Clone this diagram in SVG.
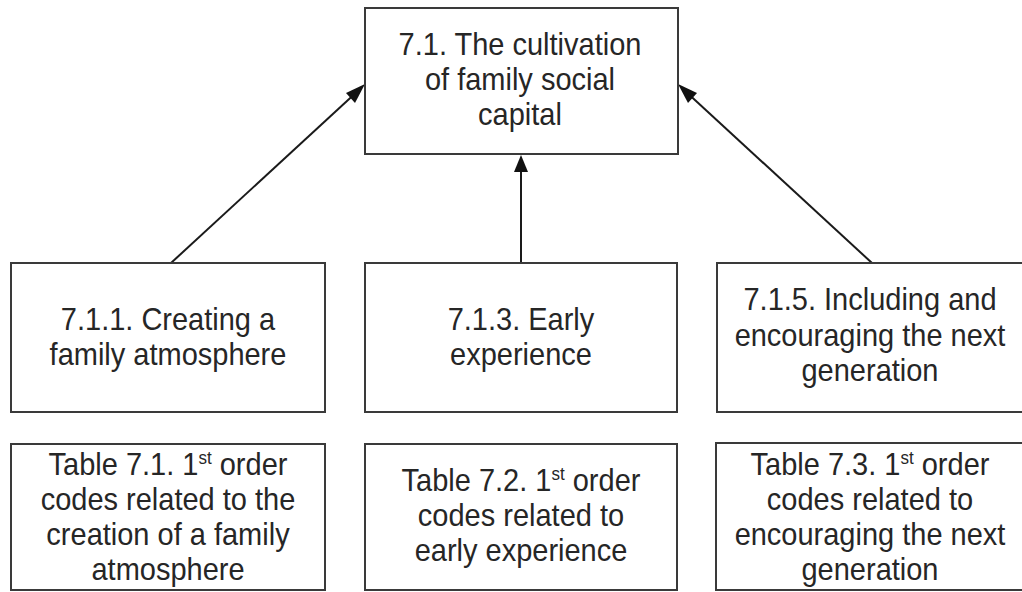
<svg xmlns="http://www.w3.org/2000/svg" width="1022" height="592" viewBox="0 0 1022 592">
  <style>
    .box { fill: #ffffff; stroke: #3a3a3a; stroke-width: 2; }
    .lbl { font-family: "Liberation Sans", Arial, sans-serif; font-size: 29px; fill: #262626; text-anchor: middle; }
    .sup { font-size: 17px; }
    .edge { stroke: #1a1a1a; stroke-width: 2; fill: none; }
    .head { fill: #111111; }
  </style>
  <rect width="1022" height="592" fill="#ffffff"/>

  <!-- connectors -->
  <g id="connectors">
    <line class="edge" x1="171" y1="263" x2="360" y2="89"/>
    <path class="head" d="M365,84 L346,93 L355,103 z"/>
    <line class="edge" x1="872" y1="263" x2="683" y2="89"/>
    <path class="head" d="M678,84 L697,93 L688,103 z"/>
    <line class="edge" x1="521" y1="263" x2="521" y2="165"/>
    <path class="head" d="M521,155 L514,172 L528,172 z"/>
  </g>

  <!-- top node -->
  <g id="n-7-1">
    <rect class="box" x="365" y="8" width="313" height="146"/>
    <text class="lbl" x="520" y="0" transform="translate(0,55) scale(1,1.1)">7.1. The cultivation</text>
    <text class="lbl" x="520" y="0" transform="translate(0,90) scale(1,1.1)">of family social</text>
    <text class="lbl" x="520" y="0" transform="translate(0,125) scale(1,1.1)">capital</text>
  </g>

  <!-- second-order themes -->
  <g id="n-7-1-1">
    <rect class="box" x="11" y="263" width="314" height="149"/>
    <text class="lbl" x="168" y="0" transform="translate(0,330) scale(1,1.1)">7.1.1. Creating a</text>
    <text class="lbl" x="168" y="0" transform="translate(0,365) scale(1,1.1)">family atmosphere</text>
  </g>
  <g id="n-7-1-3">
    <rect class="box" x="365" y="263" width="312" height="149"/>
    <text class="lbl" x="521" y="0" transform="translate(0,330) scale(1,1.1)">7.1.3. Early</text>
    <text class="lbl" x="521" y="0" transform="translate(0,365) scale(1,1.1)">experience</text>
  </g>
  <g id="n-7-1-5">
    <rect class="box" x="717" y="263" width="310" height="149"/>
    <text class="lbl" x="870" y="0" transform="translate(0,310) scale(1,1.1)">7.1.5. Including  and</text>
    <text class="lbl" x="870" y="0" transform="translate(0,346) scale(1,1.1)">encouraging the next</text>
    <text class="lbl" x="870" y="0" transform="translate(0,381) scale(1,1.1)">generation</text>
  </g>

  <!-- first-order code tables -->
  <g id="t-7-1">
    <rect class="box" x="11" y="444" width="314" height="146"/>
    <text class="lbl" x="168" y="0" transform="translate(0,475) scale(1,1.1)">Table 7.1. 1<tspan class="sup" dy="-10">st</tspan><tspan dy="10"> order</tspan></text>
    <text class="lbl" x="168" y="0" transform="translate(0,510) scale(1,1.1)">codes related to the</text>
    <text class="lbl" x="168" y="0" transform="translate(0,545) scale(1,1.1)">creation of a family</text>
    <text class="lbl" x="168" y="0" transform="translate(0,580) scale(1,1.1)">atmosphere</text>
  </g>
  <g id="t-7-2">
    <rect class="box" x="365" y="444" width="312" height="146"/>
    <text class="lbl" x="521" y="0" transform="translate(0,491) scale(1,1.1)">Table 7.2. 1<tspan class="sup" dy="-10">st</tspan><tspan dy="10"> order</tspan></text>
    <text class="lbl" x="521" y="0" transform="translate(0,526) scale(1,1.1)">codes related to</text>
    <text class="lbl" x="521" y="0" transform="translate(0,561) scale(1,1.1)">early experience</text>
  </g>
  <g id="t-7-3">
    <rect class="box" x="716" y="443" width="311" height="147"/>
    <text class="lbl" x="870" y="0" transform="translate(0,475) scale(1,1.1)">Table 7.3. 1<tspan class="sup" dy="-10">st</tspan><tspan dy="10"> order</tspan></text>
    <text class="lbl" x="870" y="0" transform="translate(0,510) scale(1,1.1)">codes related to</text>
    <text class="lbl" x="870" y="0" transform="translate(0,545) scale(1,1.1)">encouraging the next</text>
    <text class="lbl" x="870" y="0" transform="translate(0,580) scale(1,1.1)">generation</text>
  </g>
</svg>
